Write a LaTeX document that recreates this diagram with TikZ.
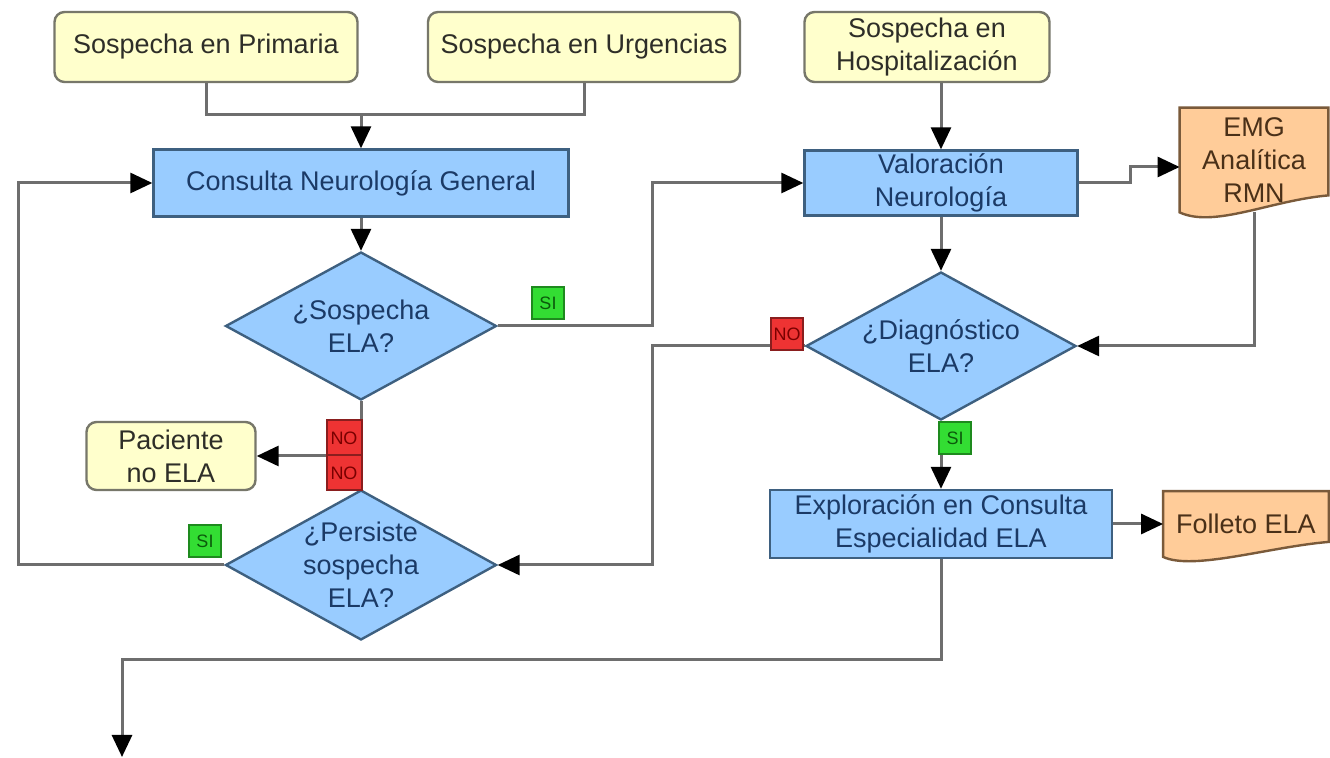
\documentclass[tikz,border=0pt]{standalone}
\usepackage{fontspec}
\setmainfont{Liberation Sans}
\usetikzlibrary{shapes.geometric,arrows.meta,calc}
\pgfdeclarelayer{bg}\pgfsetlayers{bg,main}
\definecolor{yel}{HTML}{FFFFCC}
\definecolor{yelb}{HTML}{77776A}
\definecolor{yelT}{HTML}{2E2E28}
\definecolor{blu}{HTML}{99CCFF}
\definecolor{blub}{HTML}{3E6080}
\definecolor{bluT}{HTML}{1B3A66}
\definecolor{ora}{HTML}{FFCC99}
\definecolor{orab}{HTML}{7A5A3A}
\definecolor{oraT}{HTML}{4A3018}
\definecolor{lin}{HTML}{6E6E6E}
\definecolor{sig}{HTML}{33DD33}
\definecolor{sigb}{HTML}{1E8A1E}
\definecolor{sigT}{HTML}{0B5A0B}
\definecolor{nor}{HTML}{EE3333}
\definecolor{norb}{HTML}{8A1E1E}
\definecolor{norT}{HTML}{7A0000}
\tikzset{
  txt/.style={font=\fontsize{13.5}{16.5}\selectfont, align=center},
  ybox/.style={txt, draw=yelb, fill=yel, text=yelT, line width=1.2pt, rounded corners=5pt, inner sep=0pt},
  bbox/.style={txt, draw=blub, fill=blu, text=bluT, line width=1.2pt, inner sep=0pt},
  dia/.style={diamond, draw=blub, fill=blu, line width=1.2pt, inner sep=0pt},
  diatext/.style={txt, text=bluT, inner sep=0pt},
  doc/.style={draw=orab, fill=ora, line width=1.2pt},
  doctext/.style={txt, text=oraT, inner sep=0pt},
  lbl/.style={font=\fontsize{9}{10}\selectfont, minimum width=16pt, minimum height=16pt, inner sep=0pt, line width=1pt},
  silbl/.style={lbl, draw=sigb, fill=sig, text=sigT},
  nolbl/.style={lbl, draw=norb, fill=nor, text=norT},
  conn/.style={draw=lin, line width=1.5pt},
  arr/.style={conn, -{Triangle[length=11pt,width=10pt,color=black]}},
}
\begin{document}
\begin{tikzpicture}[x=0.5pt,y=-0.5pt]
\useasboundingbox (0,0) rectangle (1330,758);
\begin{pgfonlayer}{bg}
\fill[white] (0,0) rectangle (1330,758);
\end{pgfonlayer}
% top boxes
\node[ybox, minimum width=151.5pt, minimum height=35pt] (prim) at (206,47) {Sospecha en Primaria};
\node[ybox, minimum width=156pt, minimum height=35pt] (urg) at (584,47) {Sospecha en Urgencias};
\node[ybox, minimum width=122.5pt, minimum height=35pt] (hosp) at (927,47) {Sospecha en\\Hospitalización};
% process boxes
\node[bbox, minimum width=207.5pt, minimum height=33.5pt] (cons) at (361,183) {Consulta Neurología General};
\node[bbox, minimum width=136.5pt, minimum height=32.5pt] (val) at (941,183) {Valoración\\Neurología};
\node[bbox, minimum width=171pt, minimum height=34pt] (exp) at (941,524) {Exploración en Consulta\\Especialidad ELA};
\node[ybox, minimum width=84.5pt, minimum height=34pt] (pac) at (171,456) {Paciente\\no ELA};
% diamonds
\node[dia, minimum width=135.5pt, minimum height=74pt] (dq1) at (361,326) {};
\node[diatext] (dq1t) at (dq1) {¿Sospecha\\ELA?};
\node[dia, minimum width=135pt, minimum height=74pt] (dq2) at (941,346) {};
\node[diatext] (dq2t) at (dq2) {¿Diagnóstico\\ELA?};
\node[dia, minimum width=135.5pt, minimum height=75pt] (dq3) at (361,565) {};
\node[diatext] (dq3t) at (dq3) {¿Persiste\\sospecha\\ELA?};
% documents
\node[doctext, minimum width=74pt, minimum height=52pt] (emg) at (1254,160) {EMG\\Analítica\\RMN};
\node[doctext, minimum width=82.5pt, minimum height=32.5pt] (fol) at (1246,524) {Folleto ELA};
\begin{pgfonlayer}{bg}
\draw[doc] (emg.north west) -- (emg.north east) -- ($(emg.south east)+(0,-17)$)
  .. controls ($(emg.south east)+(-58,-12)$) and ($(emg.south west)+(35,16)$) .. (emg.south west) -- cycle;
\draw[doc] (fol.north west) -- (fol.north east) -- ($(fol.south east)+(0,-15)$)
  .. controls ($(fol.south east)+(-60,-10)$) and ($(fol.south west)+(30,14)$) .. (fol.south west) -- cycle;
\end{pgfonlayer}
% coordinates
\coordinate (jn) at (361,115);
\coordinate (xm) at (652,0);
\coordinate (xl) at (18,0);
\coordinate (yb) at (0,660);
\coordinate (fin) at (122,757);
% connectors
\draw[conn] (prim.south) -- (prim.south |- jn) -- (urg.south |- jn) -- (urg.south);
\draw[arr] (jn) -- (cons.north);
\draw[arr] (cons.south) -- (dq1.north);
\draw[arr] (dq1.east) -- (dq1.east -| xm) |- (val.west);
\draw[arr] (val.north |- hosp.south) -- (val.north);
\draw[arr] (val.east) -- ++(52,0) |- ([yshift=-3.5pt]emg.west);
\draw[arr] (emg.south) |- (dq2.east);
\draw[arr] (val.south) -- (dq2.north);
\draw[arr] (dq2.west) -- (dq2.west -| xm) |- (dq3.east);
\draw[arr] (dq2.south) -- (exp.north);
\draw[arr] (exp.east) -- (fol.west);
\draw[arr] (exp.south) -- (exp.south |- yb) -| (fin);
\draw[conn] (dq1.south) -- (dq3.north);
\draw[arr] (dq1.south |- pac.east) -- (pac.east);
\draw[arr] (dq3.west) -- (dq3.west -| xl) |- (cons.west);
% labels
\node[silbl] (si1) at (548,303) {SI};
\node[nolbl] (no2) at (787,334) {NO};
\node[silbl] (si2) at (955,438) {SI};
\node[nolbl, minimum width=17.5pt, minimum height=17.5pt] (no1a) at (344,438) {NO};
\node[nolbl, minimum width=17.5pt, minimum height=17.5pt] (no1b) at (344,473) {NO};
\node[silbl] (si3) at (205,541) {SI};
\end{tikzpicture}
\end{document}
